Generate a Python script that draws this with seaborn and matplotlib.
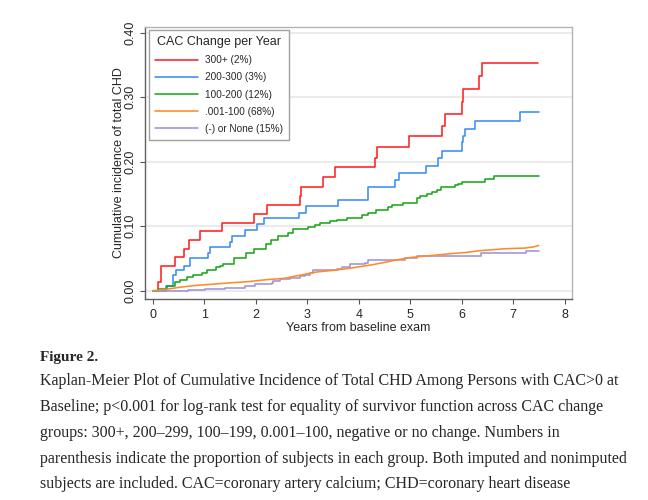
import pandas as pd
import matplotlib
matplotlib.use('Agg')
import matplotlib.pyplot as plt
from matplotlib.lines import Line2D
import seaborn as sns


# Groups and colours (legend order)
groups = ['300+ (2%)', '200-300 (3%)', '100-200 (12%)', '.001-100 (68%)', '(-) or None (15%)']
colors = ['#ff2020', '#3a8cf5', '#1ca61c', '#ff8a2a', '#9b95d5']

# Step curves (years, cumulative incidence)
red_years = [0, 0.11, 0.155, 0.43, 0.60, 0.71, 0.92, 1.34, 1.97, 2.21, 2.86, 2.88, 3.31, 3.53,
             4.31, 4.36, 4.98, 5.62, 5.67, 6.01, 6.03, 6.34, 6.39, 7.48]
red_cum = [0, 0.014, 0.039, 0.052, 0.065, 0.079, 0.092, 0.105, 0.119, 0.132, 0.147, 0.161, 0.176, 0.191,
           0.206, 0.222, 0.239, 0.255, 0.274, 0.293, 0.312, 0.332, 0.352, 0.352]

blue_years = [0, 0.26, 0.40, 0.45, 0.60, 0.72, 1.08, 1.11, 1.50, 1.53, 1.79, 2.03, 2.16, 2.83, 2.98,
              3.59, 4.17, 4.18, 4.71, 4.79, 5.30, 5.53, 5.62, 6.00, 6.02, 6.06, 6.25, 7.13, 7.49]
blue_cum = [0, 0.008, 0.025, 0.032, 0.039, 0.050, 0.058, 0.067, 0.076, 0.084, 0.094, 0.103, 0.112, 0.121, 0.131,
            0.140, 0.151, 0.161, 0.172, 0.183, 0.193, 0.206, 0.217, 0.230, 0.239, 0.250, 0.263, 0.277, 0.277]

green_years = [0, 0.10, 0.28, 0.43, 0.52, 0.66, 0.79, 0.95, 1.05, 1.23, 1.31, 1.37, 1.57, 1.81, 1.97,
               2.19, 2.29, 2.44, 2.62, 2.73, 3.02, 3.15, 3.24, 3.44, 3.58, 3.77, 4.07, 4.17, 4.34,
               4.56, 4.65, 4.85, 5.13, 5.19, 5.32, 5.42, 5.51, 5.60, 5.87, 5.92, 6.00, 6.45, 6.63, 7.49]
green_cum = [0, 0.003, 0.008, 0.013, 0.017, 0.021, 0.025, 0.028, 0.032, 0.036, 0.039, 0.042, 0.050, 0.058, 0.065,
             0.073, 0.079, 0.085, 0.090, 0.095, 0.098, 0.101, 0.105, 0.108, 0.110, 0.113, 0.117, 0.121, 0.125,
             0.130, 0.133, 0.136, 0.143, 0.147, 0.150, 0.153, 0.156, 0.160, 0.163, 0.166, 0.169, 0.173, 0.177, 0.177]

orange_years = [0, 0.25, 0.50, 0.82, 1.15, 1.47, 1.86, 2.20, 2.54, 2.86, 3.18, 3.57, 3.93, 4.25,
                4.57, 4.96, 5.20, 5.48, 5.87, 6.06, 6.36, 6.84, 7.23, 7.40, 7.49]
orange_cum = [0, 0.002, 0.005, 0.008, 0.010, 0.012, 0.014, 0.017, 0.019, 0.024, 0.029, 0.032, 0.036, 0.040,
              0.045, 0.051, 0.053, 0.055, 0.058, 0.059, 0.062, 0.065, 0.066, 0.068, 0.070]

purple_years = [0, 0.69, 1.02, 1.40, 1.79, 1.99, 2.31, 2.34, 2.47, 2.67, 2.86, 2.96, 3.06, 3.12,
                3.57, 3.67, 3.83, 4.12, 4.17, 4.90, 5.13, 6.38, 7.25, 7.49]
purple_cum = [0, 0.001, 0.002, 0.004, 0.007, 0.010, 0.012, 0.015, 0.018, 0.019, 0.022, 0.024, 0.027, 0.032,
              0.034, 0.037, 0.041, 0.043, 0.048, 0.051, 0.054, 0.058, 0.062, 0.062]

caption_title = 'Figure 2.'
caption_lines = [
    'Kaplan-Meier Plot of Cumulative Incidence of Total CHD Among Persons with CAC>0 at',
    'Baseline; p<0.001 for log-rank test for equality of survivor function across CAC change',
    'groups: 300+, 200\u2013299, 100\u2013199, 0.001\u2013100, negative or no change. Numbers in',
    'parenthesis indicate the proportion of subjects in each group. Both imputed and nonimputed',
    'subjects are included. CAC=coronary artery calcium; CHD=coronary heart disease',
]

# Long table for seaborn
curves = [(red_years, red_cum), (blue_years, blue_cum), (green_years, green_cum),
          (orange_years, orange_cum), (purple_years, purple_cum)]
frames = []
for g, (yrs, cum) in zip(groups, curves):
    frames.append(pd.DataFrame({'year': yrs, 'cum': cum, 'group': g}))
df = pd.concat(frames, ignore_index=True)
palette = dict(zip(groups, colors))

sns.set_theme(style='white')
plt.rcParams['font.family'] = ['Liberation Sans', 'DejaVu Sans']

fig = plt.figure(figsize=(6.48, 5.0), dpi=100)
ax = fig.add_axes([0.2238, 0.402, 0.659, 0.5446])

# orange group has many tiny steps, looks like a smooth line
step_groups = [g for g in groups if g != groups[3]]
sns.lineplot(data=df[df['group'].isin(step_groups)], x='year', y='cum', hue='group',
             hue_order=step_groups, palette=palette, estimator=None, drawstyle='steps-post',
             linewidth=1.15, legend=False, ax=ax)
sns.lineplot(data=df[df['group'] == groups[3]], x='year', y='cum', color=colors[3],
             estimator=None, linewidth=1.15, legend=False, ax=ax)

ax.set_xlim(-0.15, 8.14)
ax.set_ylim(-0.0129, 0.409)
ax.set_xticks(range(0, 9))
ax.set_yticks([0, 0.1, 0.2, 0.3, 0.4])
ax.set_yticklabels(['0.00', '0.10', '0.20', '0.30', '0.40'])
ax.tick_params(axis='both', which='major', labelsize=9, length=3.6, width=0.8,
               color='#555555', direction='out', bottom=True, left=True)
ax.tick_params(axis='x', pad=3.5)
ax.tick_params(axis='y', pad=2.5, labelrotation=90)
for lab in ax.get_yticklabels():
    lab.set_va('center')

ax.yaxis.grid(True, color='#e9e9e9', linewidth=1.3)
ax.xaxis.grid(False)
ax.set_axisbelow(True)

for side in ['left', 'bottom']:
    ax.spines[side].set_color('#606060')
    ax.spines[side].set_linewidth(1.0)
for side in ['top', 'right']:
    ax.spines[side].set_color('#b4b4b4')
    ax.spines[side].set_linewidth(1.0)

ax.set_xlabel('Years from baseline exam', fontsize=9, labelpad=1)
ax.set_ylabel('Cumulative incidence of total CHD', fontsize=9, labelpad=-0.5)

handles = [Line2D([0], [0], color=c, lw=1.15) for c in colors]
leg = ax.legend(handles, groups, title='CAC Change per Year', loc='upper left',
                bbox_to_anchor=(0.0094, 0.988), borderaxespad=0, fontsize=7.2,
                title_fontsize=9, frameon=True, fancybox=False, edgecolor='#a0a0a0',
                framealpha=1, handlelength=4.3, handletextpad=0.65, labelspacing=0.72,
                borderpad=0.6)
leg.get_frame().set_linewidth(1.0)

# Caption below the chart
serif = ['Liberation Serif', 'DejaVu Serif']
fig.text(40 / 648, 1 - 358 / 500, caption_title, fontsize=11, fontweight='bold',
         family=serif, va='center', ha='left')
line_y = [381, 407, 433, 459, 484]
for y, line in zip(line_y, caption_lines):
    fig.text(40 / 648, 1 - y / 500, line, fontsize=11.55, family=serif, va='center', ha='left')

fig.savefig('out.png', dpi=100)
